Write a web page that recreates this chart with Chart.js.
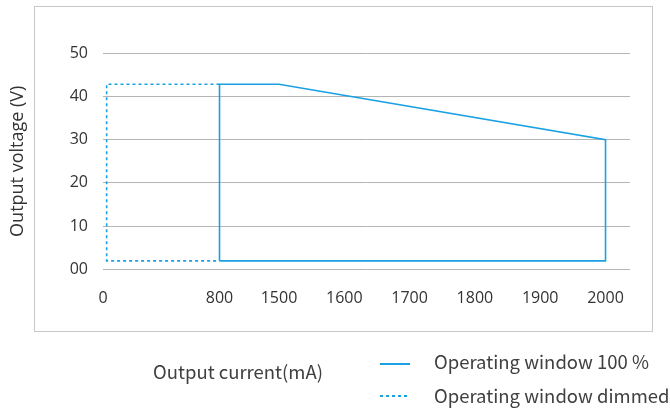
<!DOCTYPE html>
<html lang="en">
<head>
    <meta charset="UTF-8">
    <title>Operating window</title>
    <script src="https://cdn.jsdelivr.net/npm/chart.js@4/dist/chart.umd.min.js"></script>
    <style>
        body { margin: 0; width: 670px; height: 412px; background: #fff; position: relative; overflow: hidden; }
        #frame { position: absolute; left: 34px; top: 6px; width: 617px; height: 324px; border: 1px solid #c8c8c8; }
        #wrap { position: absolute; left: 0; top: 0; width: 670px; height: 412px; }
        .txt { position: absolute; font-family: "Noto Sans CJK SC", sans-serif; font-size: 18.5px; color: #404040; white-space: nowrap; line-height: 22px; }
        .key { position: absolute; width: 30px; height: 1.5px; }
        .solid { background: #1aa1e3; }
        .dotted { background: repeating-linear-gradient(to right, #1aa1e3 0 3px, transparent 3px 6px); }
    </style>
</head>
<body>
    <div id="frame"></div>
    <div id="wrap"><canvas id="chart"></canvas></div>
    <div class="txt" style="left:153px; top:360px;">Output current(mA)</div>
    <div class="key solid" style="left:380px; top:363px;"></div>
    <div class="txt" style="left:434px; top:350px;">Operating window 100 %</div>
    <div class="key dotted" style="left:380px; top:395px;"></div>
    <div class="txt" style="left:434px; top:384px;">Operating window dimmed</div>

    <script>
        // tick labels on the current axis (not evenly spaced in the original)
        const currentTicks = [0, 800, 1500, 1600, 1700, 1800, 1900, 2000];
        const voltageTicks = [0, 10, 20, 30, 40, 50];

        // 100 % window outline
        const fullCurrent = [800, 800, 1500, 2000, 2000, 800];
        const fullVoltage = [2, 42.8, 42.8, 30, 2, 2];

        // dimmed window outline
        const dimCurrent = [800, 25, 25, 800];
        const dimVoltage = [42.8, 42.8, 2, 2];

        // the axis of the original is stretched piecewise: map mA to axis units
        const axisStops = [0, 1.784, 2.695, 3.695, 4.695, 5.695, 6.695, 7.695];
        const axisMax = 8.07;

        function warp(mA) {
            for (let i = 1; i < currentTicks.length; i++) {
                if (mA <= currentTicks[i]) {
                    const t = (mA - currentTicks[i - 1]) / (currentTicks[i] - currentTicks[i - 1]);
                    return axisStops[i - 1] + t * (axisStops[i] - axisStops[i - 1]);
                }
            }
            return axisStops[axisStops.length - 1];
        }

        function toPoints(xs, ys) {
            return xs.map((x, i) => ({ x: warp(x), y: ys[i] }));
        }

        const blue = '#1aa1e3';
        const tickFont = { family: '"Open Sans", sans-serif', size: 16 };

        new Chart(document.getElementById('chart'), {
            type: 'line',
            data: {
                datasets: [{
                    label: 'Operating window dimmed',
                    data: toPoints(dimCurrent, dimVoltage),
                    borderColor: blue,
                    borderWidth: 1.6,
                    borderDash: [3, 3],
                    pointRadius: 0,
                    fill: false,
                    order: 2
                }, {
                    label: 'Operating window 100 %',
                    data: toPoints(fullCurrent, fullVoltage),
                    borderColor: blue,
                    borderWidth: 1.6,
                    pointRadius: 0,
                    fill: false,
                    order: 1
                }]
            },
            options: {
                responsive: true,
                maintainAspectRatio: false,
                animation: false,
                layout: { padding: { left: 7, top: 53, right: 40, bottom: 0 } },
                plugins: { legend: { display: false }, tooltip: { enabled: false } },
                scales: {
                    x: {
                        type: 'linear',
                        min: 0,
                        max: axisMax,
                        afterBuildTicks: axis => {
                            axis.ticks = axisStops.map(v => ({ value: v }));
                        },
                        afterFit: axis => { axis.height = 142.5; },
                        ticks: {
                            autoSkip: false,
                            maxRotation: 0,
                            padding: 11,
                            color: '#333',
                            font: tickFont,
                            callback: (v, i) => String(currentTicks[i])
                        },
                        grid: { display: false },
                        border: { display: false }
                    },
                    y: {
                        min: 0,
                        max: 50,
                        afterBuildTicks: axis => {
                            axis.ticks = voltageTicks.map(v => ({ value: v }));
                        },
                        afterFit: axis => { axis.width = 96; },
                        ticks: {
                            padding: 15,
                            color: '#333',
                            font: tickFont,
                            callback: v => v === 0 ? '00' : String(v)
                        },
                        grid: { color: '#b4b4b4', lineWidth: 1, drawTicks: false },
                        border: { display: false },
                        title: {
                            display: true,
                            text: 'Output voltage (V)',
                            color: '#333',
                            font: { family: '"Open Sans", sans-serif', size: 18 },
                            padding: { top: 0, bottom: 0 }
                        }
                    }
                }
            }
        });
    </script>
</body>
</html>
